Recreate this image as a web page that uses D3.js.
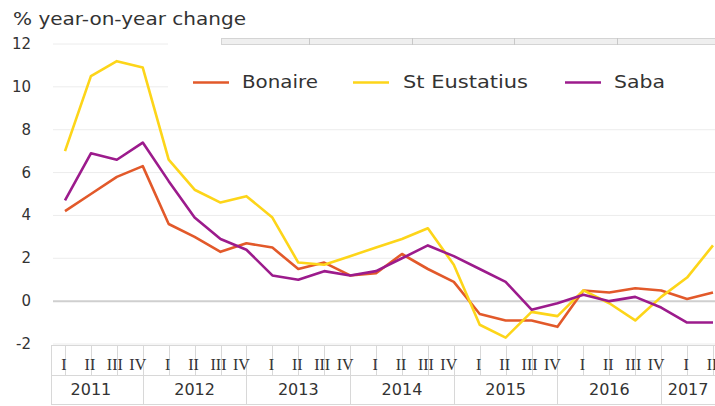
<!DOCTYPE html>
<html>
<head>
<meta charset="utf-8">
<script src="https://cdn.jsdelivr.net/npm/d3@7"></script>
<style>
  body { margin: 0; background: #fff; }
  text { font-family: "DejaVu Sans", Verdana, sans-serif; fill: #333; }
</style>
</head>
<body>
<div id="chart"></div>
<script>
// quarterly % change, 2011 I - 2017 II
var years = ["2011", "2012", "2013", "2014", "2015", "2016", "2017"];
var quarterNames = ["I", "II", "III", "IV"];
var yTicks = [-2, 0, 2, 4, 6, 8, 10, 12];

var bonaire = [4.2, 5.0, 5.8, 6.3, 3.6, 3.0, 2.3, 2.7, 2.5, 1.5, 1.8, 1.2,
               1.3, 2.2, 1.5, 0.9, -0.6, -0.9, -0.9, -1.2, 0.5, 0.4, 0.6, 0.5, 0.1, 0.4];
var stEustatius = [7.0, 10.5, 11.2, 10.9, 6.6, 5.2, 4.6, 4.9, 3.9, 1.8, 1.7, 2.1,
                   2.5, 2.9, 3.4, 1.7, -1.1, -1.7, -0.5, -0.7, 0.5, -0.1, -0.9, 0.2, 1.1, 2.6];
var saba = [4.7, 6.9, 6.6, 7.4, 5.6, 3.9, 2.9, 2.4, 1.2, 1.0, 1.4, 1.2,
            1.4, 2.0, 2.6, 2.1, 1.5, 0.9, -0.4, -0.1, 0.3, 0.0, 0.2, -0.3, -1.0, -1.0];

var seriesNames = ["Bonaire", "St Eustatius", "Saba"];
var seriesColors = ["#e2592a", "#fdd519", "#9c1b8c"];

// build quarter keys
var quarters = [];
years.forEach(function(y) {
  quarterNames.forEach(function(q) {
    if (quarters.length < bonaire.length) quarters.push({year: y, q: q, key: y + "-" + q});
  });
});

var width = 715, height = 406;

var svg = d3.select("#chart")
  .append("svg")
  .attr("width", width)
  .attr("height", height);

var x = d3.scalePoint()
  .domain(quarters.map(d => d.key))
  .range([65, 713]);

var y = d3.scaleLinear()
  .domain([-2, 12])
  .range([344, 44]);

// gridlines
svg.append("g")
  .selectAll("line")
  .data(yTicks)
  .enter()
  .append("line")
    .attr("x1", 53)
    .attr("x2", width)
    .attr("y1", d => y(d))
    .attr("y2", d => y(d))
    .attr("stroke", d => d === 0 ? "#cfcfcf" : "#ececec")
    .attr("stroke-width", d => d === 0 ? 2 : 1);

// y tick labels
svg.append("g")
  .selectAll("text")
  .data(yTicks)
  .enter()
  .append("text")
    .attr("x", 31)
    .attr("y", d => y(d) + 5)
    .attr("text-anchor", "end")
    .attr("font-size", 15)
    .text(d => d);

// title
svg.append("text")
  .attr("x", 13)
  .attr("y", 25)
  .attr("font-size", 17)
  .attr("textLength", 233)
  .attr("lengthAdjust", "spacingAndGlyphs")
  .text("% year-on-year change");

// legend background and bar behind it
svg.append("rect")
  .attr("x", 168).attr("y", 34)
  .attr("width", width - 168).attr("height", 84)
  .attr("fill", "#fff");

var bar = svg.append("g");
bar.append("rect")
  .attr("x", 221.5).attr("y", 38.5)
  .attr("width", width - 221).attr("height", 6)
  .attr("fill", "#efefef")
  .attr("stroke", "#d4d4d4");
[309, 412, 514, 617].forEach(function(bx) {
  bar.append("line")
    .attr("x1", bx + 0.5).attr("x2", bx + 0.5)
    .attr("y1", 38).attr("y2", 45)
    .attr("stroke", "#c8c8c8");
});

// legend
var legendX = [193, 353, 565];
var legendW = [76, 125, 51];
var legend = svg.append("g")
  .selectAll("g")
  .data(seriesNames)
  .enter()
  .append("g");

legend.append("line")
  .attr("x1", (d, i) => legendX[i])
  .attr("x2", (d, i) => legendX[i] + 36)
  .attr("y1", 82.5)
  .attr("y2", 82.5)
  .attr("stroke", (d, i) => seriesColors[i])
  .attr("stroke-width", 2.5);

legend.append("text")
  .attr("x", (d, i) => legendX[i] + (i === 1 ? 50 : 49))
  .attr("y", 88)
  .attr("font-size", 17)
  .attr("textLength", (d, i) => legendW[i])
  .attr("lengthAdjust", "spacingAndGlyphs")
  .text(d => d);

// lines
var line = d3.line()
  .x((d, i) => x(quarters[i].key))
  .y(d => y(d));

svg.append("g")
  .selectAll("path")
  .data([bonaire, stEustatius, saba])
  .enter()
  .append("path")
    .attr("d", d => line(d))
    .attr("fill", "none")
    .attr("stroke", (d, i) => seriesColors[i])
    .attr("stroke-width", 2.6)
    .attr("stroke-linejoin", "round");

// category axis (two rows)
var axis = svg.append("g");
var boxL = 51, boxT = 345, boxM = 375, boxB = 404;

axis.append("line")
  .attr("x1", boxL).attr("x2", width).attr("y1", boxT + 0.5).attr("y2", boxT + 0.5)
  .attr("stroke", "#d8d8d8");
axis.append("line")
  .attr("x1", boxL).attr("x2", width).attr("y1", boxM + 0.5).attr("y2", boxM + 0.5)
  .attr("stroke", "#d8d8d8");
axis.append("line")
  .attr("x1", boxL).attr("x2", width).attr("y1", boxB + 0.5).attr("y2", boxB + 0.5)
  .attr("stroke", "#d8d8d8");
axis.append("line")
  .attr("x1", boxL + 0.5).attr("x2", boxL + 0.5).attr("y1", boxT).attr("y2", boxB)
  .attr("stroke", "#d8d8d8");

axis.selectAll(".qtick")
  .data(quarters)
  .enter()
  .append("line")
    .attr("class", "qtick")
    .attr("x1", d => Math.round(x(d.key)) + 0.5)
    .attr("x2", d => Math.round(x(d.key)) + 0.5)
    .attr("y1", boxT)
    .attr("y2", d => d.q === "IV" ? boxB : boxM)
    .attr("stroke", "#d8d8d8");

axis.selectAll(".qlabel")
  .data(quarters)
  .enter()
  .append("text")
    .attr("class", "qlabel")
    .attr("x", d => x(d.key) - (d.q === "IV" ? 5 : d.q === "III" ? 2 : 1))
    .attr("y", 370)
    .attr("text-anchor", "middle")
    .attr("font-size", 16)
    .style("font-family", "'Liberation Serif', 'DejaVu Serif', serif")
    .text(d => d.q);

// year labels centred between year dividers
axis.selectAll(".ylabel")
  .data(years)
  .enter()
  .append("text")
    .attr("class", "ylabel")
    .attr("x", function(yr, i) {
      var qs = quarters.filter(d => d.year === yr);
      var right = qs[qs.length - 1].q === "IV" ? x(qs[qs.length - 1].key) : width;
      var prev = i === 0 ? boxL : x(years[i - 1] + "-IV");
      if (i === 0) return (prev + right) / 2 - 6;
      return (prev + right) / 2;
    })
    .attr("y", 395)
    .attr("text-anchor", "middle")
    .attr("font-size", 16)
    .text(d => d);
</script>
</body>
</html>
